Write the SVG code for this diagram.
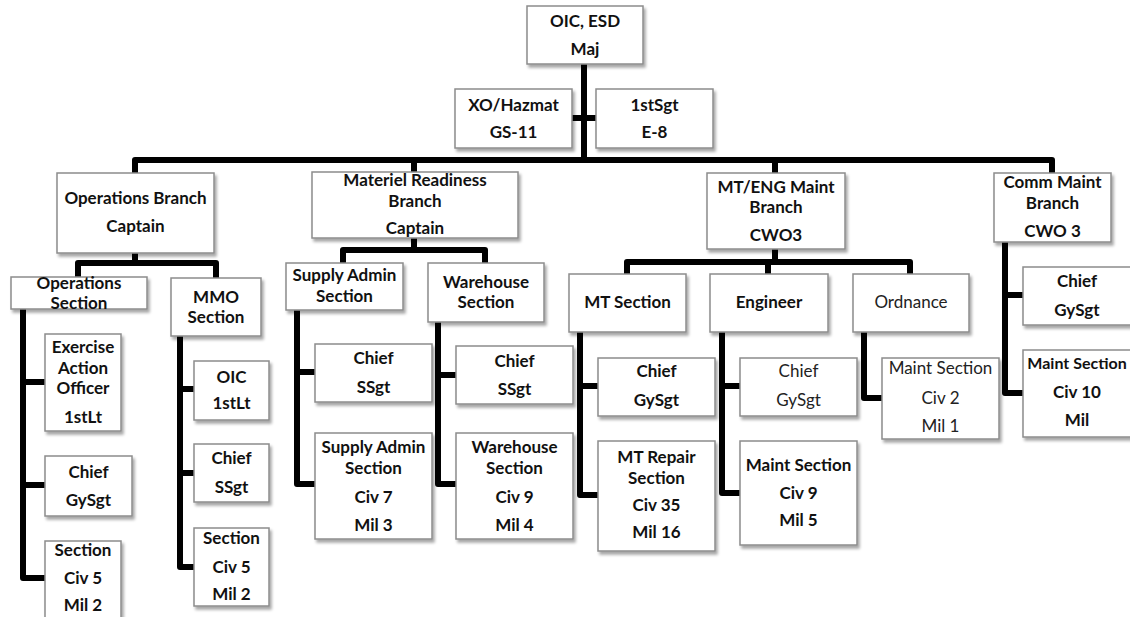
<svg xmlns="http://www.w3.org/2000/svg" width="1130" height="617" viewBox="0 0 1130 617">
<defs>
<filter id="sh" x="-20%" y="-20%" width="140%" height="150%">
<feDropShadow dx="2" dy="3" stdDeviation="1.8" flood-color="#000" flood-opacity="0.35"/>
</filter>
<style>
.b{fill:#fff;stroke:#8c8c8c;stroke-width:1.5;filter:url(#sh)}
.c{fill:none;stroke:#000;stroke-width:6;stroke-linejoin:round}
text{font-family:Lato,"Open Sans","Liberation Sans",sans-serif;font-size:17px;font-weight:bold;fill:#111;text-anchor:middle}
text.r{font-weight:normal;fill:#222}
</style>
</defs>
<rect width="1130" height="617" fill="#fff"/>
<g id="connectors">
<path class="c" d="M584,64 V160"/>
<path class="c" d="M572,118 H596"/>
<path class="c" d="M135,173 V160 H1052 V173"/>
<path class="c" d="M414,160 V172"/>
<path class="c" d="M775,160 V173"/>
<path class="c" d="M135,253 V263"/>
<path class="c" d="M78,277 V263 H216 V278"/>
<path class="c" d="M414,238 V250"/>
<path class="c" d="M343,263 V250 H485 V263"/>
<path class="c" d="M775,249 V262"/>
<path class="c" d="M627,274 V262 H910 V274"/>
<path class="c" d="M768,262 V274"/>
<path class="c" d="M23,309 V578 H45"/>
<path class="c" d="M23,382 H45 M23,485 H45"/>
<path class="c" d="M180,336 V567 H194"/>
<path class="c" d="M180,389 H194 M180,473 H194"/>
<path class="c" d="M297,310 V484 H315"/>
<path class="c" d="M297,372 H315"/>
<path class="c" d="M438,322 V484 H456"/>
<path class="c" d="M438,375 H456"/>
<path class="c" d="M580,332 V495 H598"/>
<path class="c" d="M580,386 H598"/>
<path class="c" d="M722,332 V493 H740"/>
<path class="c" d="M722,386 H740"/>
<path class="c" d="M864,332 V398 H882"/>
<path class="c" d="M1005,242 V393 H1023"/>
<path class="c" d="M1005,295 H1023"/>
</g>
<g id="oic"><rect class="b" x="527" y="6" width="116" height="58"/><text x="585" y="27">OIC, ESD</text><text x="585" y="55">Maj</text></g>
<g id="xo"><rect class="b" x="455" y="89" width="117" height="59"/><text x="513.5" y="111">XO/Hazmat</text><text x="513.5" y="138">GS-11</text></g>
<g id="firstsgt"><rect class="b" x="596" y="89" width="117" height="59"/><text x="654.5" y="111">1stSgt</text><text x="654.5" y="138">E-8</text></g>
<g id="ops-branch"><rect class="b" x="57" y="173" width="157" height="80"/><text x="135.5" y="204">Operations Branch</text><text x="135.5" y="232">Captain</text></g>
<g id="materiel-branch"><rect class="b" x="312" y="172" width="206" height="66"/><text x="415" y="186">Materiel Readiness</text><text x="415" y="207">Branch</text><text x="415" y="234">Captain</text></g>
<g id="mteng-branch"><rect class="b" x="707" y="173" width="138" height="76"/><text x="776" y="193">MT/ENG Maint</text><text x="776" y="213">Branch</text><text x="776" y="241">CWO3</text></g>
<g id="comm-branch"><rect class="b" x="994" y="173" width="117" height="69"/><text x="1052.5" y="188">Comm Maint</text><text x="1052.5" y="209">Branch</text><text x="1052.5" y="237">CWO 3</text></g>
<g id="ops-section"><rect class="b" x="11" y="277" width="136" height="32"/><text x="79" y="289">Operations</text><text x="79" y="309">Section</text></g>
<g id="mmo-section"><rect class="b" x="171" y="278" width="90" height="58"/><text x="216" y="303">MMO</text><text x="216" y="323">Section</text></g>
<g id="exercise"><rect class="b" x="45" y="334" width="76" height="97"/><text x="83" y="353">Exercise</text><text x="83" y="374">Action</text><text x="83" y="394">Officer</text><text x="83" y="423">1stLt</text></g>
<g id="ops-chief"><rect class="b" x="45" y="456" width="87" height="60"/><text x="88.5" y="478">Chief</text><text x="88.5" y="506">GySgt</text></g>
<g id="ops-staff"><rect class="b" x="45" y="541" width="76" height="82"/><text x="83" y="556">Section</text><text x="83" y="584">Civ 5</text><text x="83" y="611">Mil 2</text></g>
<g id="mmo-oic"><rect class="b" x="194" y="361" width="75" height="59"/><text x="231.5" y="383">OIC</text><text x="231.5" y="409">1stLt</text></g>
<g id="mmo-chief"><rect class="b" x="194" y="444" width="75" height="58"/><text x="231.5" y="464">Chief</text><text x="231.5" y="493">SSgt</text></g>
<g id="mmo-staff"><rect class="b" x="194" y="528" width="75" height="78"/><text x="231.5" y="544">Section</text><text x="231.5" y="573">Civ 5</text><text x="231.5" y="600">Mil 2</text></g>
<g id="supply-section"><rect class="b" x="286" y="263" width="117" height="47"/><text x="344.5" y="281">Supply Admin</text><text x="344.5" y="302">Section</text></g>
<g id="warehouse-section"><rect class="b" x="428" y="263" width="116" height="59"/><text x="486" y="288">Warehouse</text><text x="486" y="308">Section</text></g>
<g id="supply-chief"><rect class="b" x="315" y="344" width="117" height="58"/><text x="373.5" y="364">Chief</text><text x="373.5" y="393">SSgt</text></g>
<g id="supply-staff"><rect class="b" x="315" y="433" width="117" height="106"/><text x="373.5" y="453">Supply Admin</text><text x="373.5" y="474">Section</text><text x="373.5" y="503">Civ 7</text><text x="373.5" y="531">Mil 3</text></g>
<g id="warehouse-chief"><rect class="b" x="456" y="346" width="117" height="58"/><text x="514.5" y="367">Chief</text><text x="514.5" y="395">SSgt</text></g>
<g id="warehouse-staff"><rect class="b" x="456" y="433" width="117" height="106"/><text x="514.5" y="453">Warehouse</text><text x="514.5" y="474">Section</text><text x="514.5" y="503">Civ 9</text><text x="514.5" y="531">Mil 4</text></g>
<g id="mt-section"><rect class="b" x="569" y="274" width="117" height="58"/><text x="627.5" y="308">MT Section</text></g>
<g id="engineer"><rect class="b" x="710" y="274" width="118" height="58"/><text x="769" y="308">Engineer</text></g>
<g id="ordnance"><rect class="b" x="853" y="274" width="116" height="58"/><text class="r" x="911" y="308">Ordnance</text></g>
<g id="mt-chief"><rect class="b" x="598" y="358" width="117" height="58"/><text x="656.5" y="377">Chief</text><text x="656.5" y="406">GySgt</text></g>
<g id="mt-repair"><rect class="b" x="598" y="441" width="117" height="110"/><text x="656.5" y="463">MT Repair</text><text x="656.5" y="484">Section</text><text x="656.5" y="511">Civ 35</text><text x="656.5" y="538">Mil 16</text></g>
<g id="eng-chief"><rect class="b" x="740" y="358" width="117" height="58"/><text class="r" x="798.5" y="377">Chief</text><text class="r" x="798.5" y="406">GySgt</text></g>
<g id="eng-maint"><rect class="b" x="740" y="441" width="117" height="104"/><text x="798.5" y="471">Maint Section</text><text x="798.5" y="499">Civ 9</text><text x="798.5" y="526">Mil 5</text></g>
<g id="ord-maint"><rect class="b" x="882" y="358" width="117" height="81"/><text class="r" x="940.5" y="374">Maint Section</text><text class="r" x="940.5" y="404">Civ 2</text><text class="r" x="940.5" y="432">Mil 1</text></g>
<g id="comm-chief"><rect class="b" x="1023" y="267" width="120" height="58"/><text x="1077" y="287">Chief</text><text x="1077" y="316">GySgt</text></g>
<g id="comm-maint"><rect class="b" x="1023" y="350" width="120" height="87"/><text x="1077" y="369" style="font-size:16px">Maint Section</text><text x="1077" y="398">Civ 10</text><text x="1077" y="426">Mil</text></g>
</svg>
